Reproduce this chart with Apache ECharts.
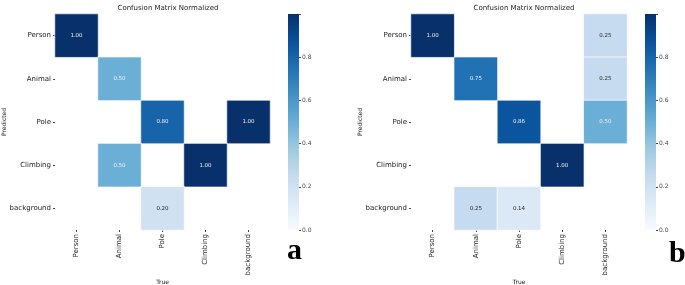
<!DOCTYPE html>
<html>
<head>
<meta charset="utf-8">
<script src="https://cdn.jsdelivr.net/npm/echarts@6/dist/echarts.min.js"></script>
<style>
  html, body { margin: 0; padding: 0; background: #fff; }
  #chart { width: 685px; height: 285px; }
</style>
</head>
<body>
<div id="chart"></div>
<script>
// class names, rows = predicted, cols = true
const classes = ['Person', 'Animal', 'Pole', 'Climbing', 'background'];
const matrixA = [
    [1.00, 0, 0, 0, 0],
    [0, 0.50, 0, 0, 0],
    [0, 0, 0.80, 0, 1.00],
    [0, 0.50, 0, 1.00, 0],
    [0, 0, 0.20, 0, 0]
];
const matrixB = [
    [1.00, 0, 0, 0, 0.25],
    [0, 0.75, 0, 0, 0.25],
    [0, 0, 0.86, 0, 0.50],
    [0, 0, 0, 1.00, 0],
    [0, 0.25, 0.14, 0, 0]
];
const colorbarTicks = [0.0, 0.2, 0.4, 0.6, 0.8];

// matplotlib "Blues"
const blues = ['#f7fbff', '#deebf7', '#c6dbef', '#9ecae1', '#6baed6', '#4292c6', '#2171b5', '#08519c', '#08306b'];
const font = 'DejaVu Sans';

function toCells(m) {
    const out = [];
    m.forEach((row, r) => {
        row.forEach((v, c) => {
            if (v < 0.005) return;
            out.push({
                value: [c, r, v],
                label: { color: v >= 0.5 ? '#f0f0f0' : '#262626' }
            });
        });
    });
    return out;
}

const chart = echarts.init(document.getElementById('chart'));

const panels = [
    { left: 55, width: 215, cbLeft: 288, data: matrixA, titleX: 163 },
    { left: 411, width: 216, cbLeft: 645, data: matrixB, titleX: 519 }
];

const grids = [], xAxes = [], yAxes = [], series = [], titles = [];
panels.forEach((p, i) => {
    grids.push({ left: p.left, top: 14, width: p.width, height: 216, outerBoundsMode: 'none' });
    grids.push({ left: p.cbLeft, top: 14, width: 11, height: 216, outerBoundsMode: 'none' });
    titles.push({
        text: 'Confusion Matrix Normalized',
        left: p.titleX, top: 0, textAlign: 'center',
        textStyle: { fontFamily: font, fontSize: 7, fontWeight: 'normal', color: '#222' }
    });
    xAxes.push({
        type: 'category', gridIndex: 2 * i, data: classes, position: 'bottom',
        name: 'True', nameLocation: 'middle', nameGap: 49, nameMoveOverlap: false,
        nameTextStyle: { fontFamily: font, fontSize: 6, color: '#222' },
        axisLine: { show: false },
        axisTick: { show: true, alignWithLabel: true, length: 2, lineStyle: { color: '#444' } },
        axisLabel: { rotate: 90, fontFamily: font, fontSize: 7, color: '#222', margin: 4 },
        splitLine: { show: false }
    });
    xAxes.push({
        type: 'category', gridIndex: 2 * i + 1, data: [''], show: false
    });
    yAxes.push({
        type: 'category', gridIndex: 2 * i, data: classes, inverse: true,
        name: 'Predicted', nameLocation: 'middle', nameGap: 48, nameRotate: 90, nameMoveOverlap: false,
        nameTextStyle: { fontFamily: font, fontSize: 6, color: '#222' },
        axisLine: { show: false },
        axisTick: { show: true, alignWithLabel: true, length: 2, lineStyle: { color: '#444' } },
        axisLabel: { fontFamily: font, fontSize: 7, color: '#222', margin: 4 },
        splitLine: { show: false }
    });
    yAxes.push({
        type: 'value', gridIndex: 2 * i + 1, min: 0, max: 1, interval: 0.2, position: 'right',
        axisLine: { show: false },
        axisTick: { show: true, length: 2, lineStyle: { color: '#444' } },
        axisLabel: {
            fontFamily: font, fontSize: 6, color: '#444', margin: 3,
            formatter: v => colorbarTicks.some(t => Math.abs(t - v) < 1e-6) ? v.toFixed(1) : ''
        },
        splitLine: { show: false }
    });
    series.push({
        type: 'heatmap', xAxisIndex: 2 * i, yAxisIndex: 2 * i,
        data: toCells(p.data),
        itemStyle: { borderColor: 'rgba(255,255,255,0.7)', borderWidth: 1 },
        label: {
            show: true, fontFamily: font, fontSize: 5.5,
            formatter: d => d.value[2].toFixed(2)
        },
        emphasis: { disabled: true }
    });
    series.push({
        type: 'bar', xAxisIndex: 2 * i + 1, yAxisIndex: 2 * i + 1,
        data: [1], barWidth: '100%', silent: true,
        itemStyle: {
            color: new echarts.graphic.LinearGradient(0, 1, 0, 0,
                blues.map((c, k) => ({ offset: k / (blues.length - 1), color: c })))
        }
    });
});

chart.setOption({
    animation: false,
    title: titles,
    grid: grids,
    xAxis: xAxes,
    yAxis: yAxes,
    visualMap: {
        type: 'continuous', show: false, min: 0, max: 1,
        seriesIndex: [0, 2],
        inRange: { color: blues }
    },
    series: series,
    graphic: [
        { type: 'text', left: 287, top: 236, style: { text: 'a', font: 'bold 30px "Liberation Serif"', fill: '#000' } },
        { type: 'text', left: 669, top: 239, style: { text: 'b', font: 'bold 30px "Liberation Serif"', fill: '#000' } }
    ]
});
window.addEventListener('resize', () => chart.resize());
</script>
</body>
</html>
